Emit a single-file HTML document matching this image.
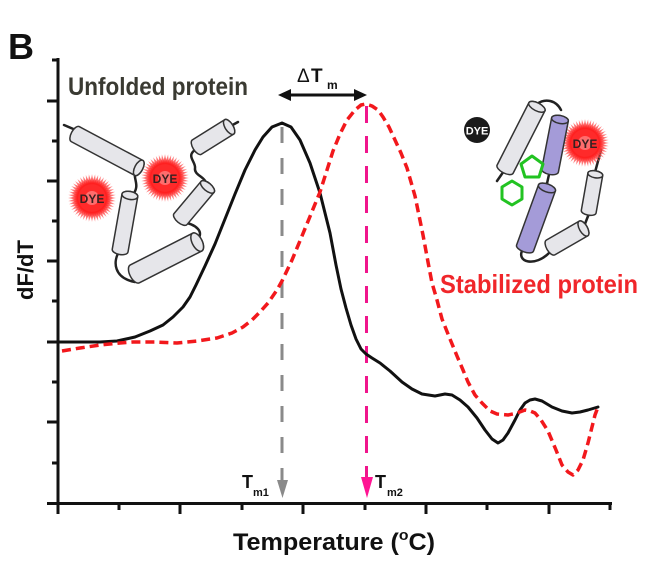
<!DOCTYPE html>
<html><head><meta charset="utf-8"><style>
html,body{margin:0;padding:0;background:#fff;}
svg{display:block;}
text{font-family:"Liberation Sans",Arial,sans-serif;}
</style></head><body>
<svg width="650" height="565" viewBox="0 0 650 565" xmlns="http://www.w3.org/2000/svg">
<defs>
<radialGradient id="burst" cx="0.5" cy="0.5" r="0.5">
<stop offset="0" stop-color="#ffecec"/>
<stop offset="0.3" stop-color="#ff6a6a"/>
<stop offset="0.6" stop-color="#ff1e1e"/>
<stop offset="1" stop-color="#ff7070" stop-opacity="0.6"/>
</radialGradient>
<g id="star">
<polygon points="24,0 14.87,1.96 23.18,6.21 13.86,5.74 20.78,12 11.9,9.13 16.97,16.97 9.13,11.9 12,20.78 5.74,13.86 6.21,23.18 1.96,14.87 0,24 -1.96,14.87 -6.21,23.18 -5.74,13.86 -12,20.78 -9.13,11.9 -16.97,16.97 -11.9,9.13 -20.78,12 -13.86,5.74 -23.18,6.21 -14.87,1.96 -24,0 -14.87,-1.96 -23.18,-6.21 -13.86,-5.74 -20.78,-12 -11.9,-9.13 -16.97,-16.97 -9.13,-11.9 -12,-20.78 -5.74,-13.86 -6.21,-23.18 -1.96,-14.87 0,-24 1.96,-14.87 6.21,-23.18 5.74,-13.86 12,-20.78 9.13,-11.9 16.97,-16.97 11.9,-9.13 20.78,-12 13.86,-5.74 23.18,-6.21 14.87,-1.96" fill="url(#burst)"/>
<polygon transform="rotate(7.5)" points="24,0 14.87,1.96 23.18,6.21 13.86,5.74 20.78,12 11.9,9.13 16.97,16.97 9.13,11.9 12,20.78 5.74,13.86 6.21,23.18 1.96,14.87 0,24 -1.96,14.87 -6.21,23.18 -5.74,13.86 -12,20.78 -9.13,11.9 -16.97,16.97 -11.9,9.13 -20.78,12 -13.86,5.74 -23.18,6.21 -14.87,1.96 -24,0 -14.87,-1.96 -23.18,-6.21 -13.86,-5.74 -20.78,-12 -11.9,-9.13 -16.97,-16.97 -9.13,-11.9 -12,-20.78 -5.74,-13.86 -6.21,-23.18 -1.96,-14.87 0,-24 1.96,-14.87 6.21,-23.18 5.74,-13.86 12,-20.78 9.13,-11.9 16.97,-16.97 11.9,-9.13 20.78,-12 13.86,-5.74 23.18,-6.21 14.87,-1.96" fill="url(#burst)"/>
<circle r="13" fill="#ff2a2a"/>
<circle r="7" fill="#ff8a8a" opacity="0.7"/>
</g>
</defs>

<rect width="650" height="565" fill="#fff"/>

<!-- Panel label -->
<text x="8" y="59" font-size="36" font-weight="bold" fill="#111">B</text>

<!-- Axes -->
<g stroke="#111" stroke-width="3" fill="none">
<line x1="58" y1="58" x2="58" y2="505"/>
<line x1="56.5" y1="503.5" x2="612" y2="503.5"/>
<!-- y ticks major -->
<line x1="47" y1="101" x2="58" y2="101"/>
<line x1="47" y1="181" x2="58" y2="181"/>
<line x1="47" y1="261" x2="58" y2="261"/>
<line x1="47" y1="342" x2="58" y2="342"/>
<line x1="47" y1="422" x2="58" y2="422"/>
<line x1="47" y1="503.5" x2="58" y2="503.5"/>
<!-- y ticks minor -->
<line x1="52" y1="60" x2="58" y2="60"/>
<line x1="52" y1="141" x2="58" y2="141"/>
<line x1="52" y1="221" x2="58" y2="221"/>
<line x1="52" y1="301" x2="58" y2="301"/>
<line x1="52" y1="382" x2="58" y2="382"/>
<line x1="52" y1="463" x2="58" y2="463"/>
<!-- x ticks major -->
<line x1="58" y1="503" x2="58" y2="514"/>
<line x1="180" y1="503" x2="180" y2="514"/>
<line x1="303" y1="503" x2="303" y2="514"/>
<line x1="426" y1="503" x2="426" y2="514"/>
<line x1="549" y1="503" x2="549" y2="514"/>
<!-- x ticks minor -->
<line x1="119" y1="503" x2="119" y2="510"/>
<line x1="242" y1="503" x2="242" y2="510"/>
<line x1="365" y1="503" x2="365" y2="510"/>
<line x1="487" y1="503" x2="487" y2="510"/>
<line x1="610" y1="503" x2="610" y2="510"/>
</g>

<!-- Axis labels -->
<text transform="translate(33,270) rotate(-90)" text-anchor="middle" font-size="22" font-weight="bold" fill="#111">dF/dT</text>
<text x="233" y="550" font-size="24" font-weight="bold" fill="#111" textLength="202" lengthAdjust="spacingAndGlyphs">Temperature (<tspan font-size="15" dy="-10">o</tspan><tspan dy="10">C)</tspan></text>

<!-- Vertical Tm lines -->
<line x1="282" y1="127" x2="282" y2="482" stroke="#8a8a8a" stroke-width="3" stroke-dasharray="16 15"/>
<polygon points="277,480 288,480 282.5,498" fill="#8a8a8a"/>
<line x1="366.5" y1="106" x2="366.5" y2="480" stroke="#f0158c" stroke-width="3" stroke-dasharray="17 13"/>
<polygon points="361,477 373,477 367,498" fill="#ff1493"/>

<!-- Tm labels -->
<text x="242" y="488" font-size="18" font-weight="bold" fill="#111">T</text>
<text x="253" y="496" font-size="11" font-weight="bold" fill="#111">m1</text>
<text x="375" y="488" font-size="18" font-weight="bold" fill="#111">T</text>
<text x="387" y="496" font-size="11" font-weight="bold" fill="#111">m2</text>

<!-- Delta Tm arrow -->
<line x1="288" y1="95" x2="357" y2="95" stroke="#111" stroke-width="3"/>
<polygon points="278,95 291,89 291,101" fill="#111"/>
<polygon points="367,95 354,89 354,101" fill="#111"/>
<text x="297" y="82" font-size="19" fill="#111">Δ</text>
<text x="311" y="82" font-size="19" font-weight="bold" fill="#111">T</text>
<text x="327" y="89" font-size="12" font-weight="bold" fill="#111">m</text>

<!-- Black curve -->
<polyline fill="none" stroke="#111" stroke-width="3" stroke-linejoin="round" stroke-linecap="round" points="58,342 80,342 100,342 117,341 135,337 150,331 163,325 173,317 183,307 190,297 196,285 205,266 215,244 225,219 235,194 245,170 255,150 263,137 272,127 282,123 291,127 300,140 310,163 320,193 330,233 336,265 341,289 346,308 351,325 356,339 361,349 366,354 372,358 380,363 390,371 402,382 412,389 422,394 435,396 445,394 452,395 460,400 468,407 477,418 485,430 492,439 498,443 503,440 508,433 515,420 520,410 525,403 530,400 535,399 542,401 552,407 562,411 572,413 580,412 588,410 598,407"/>

<!-- Red dashed curve -->
<polyline fill="none" stroke="#f2181c" stroke-width="3.5" stroke-dasharray="9 5" stroke-linejoin="round" points="62,351 80,348 100,345 120,343 133,342 155,342 177,343 197,341 217,338 232,333 243,327 252,320 260,312 268,303 277,290 282,281 292,260 302,236 311,214 320,192 327,170 333,151 340,134 347,120 355,110 361,105 366,104 372,106 378,110 383,117 389,127 395,140 401,153 407,168 415,196 423,235 428,262 432,283 437,300 442,319 450,339 457,356 463,370 468,382 475,395 482,403 490,411 497,414 508,415 517,413 525,410 530,411 535,413 541,420 548,431 556,450 562,465 568,472 573,475 578,470 583,460 588,443 592,427 595,415 598,407"/>

<!-- Text labels -->
<text x="68" y="95" font-size="25" font-weight="bold" fill="#3a3a32" textLength="180" lengthAdjust="spacingAndGlyphs">Unfolded protein</text>
<text x="440" y="293" font-size="26" font-weight="bold" fill="#f0262a" textLength="198" lengthAdjust="spacingAndGlyphs">Stabilized protein</text>

<!-- Left cartoon (unfolded) -->
<g stroke="#222" stroke-width="2.5" fill="none" stroke-linecap="round">
<line x1="64" y1="125" x2="78" y2="131"/>
<path d="M136,170 C132,178 140,184 134,193"/>
<path d="M120,250 C112,262 114,278 135,282"/>
<path d="M197,240 C205,232 196,224 182,222"/>
<path d="M195,150 C186,156 196,162 195,168 C194,176 206,176 207,186"/>
<line x1="229" y1="127" x2="238" y2="122"/>
</g>
<g fill="#e6e6ea" stroke="#333" stroke-width="1.5">
<g transform="translate(107,151) rotate(28)">
<path d="M-36,-8.5 L36,-8.5 A4,8.5 0 0 1 36,8.5 L-36,8.5 A4,8.5 0 0 1 -36,-8.5 Z"/><ellipse cx="36" cy="0" rx="4" ry="8.5"/></g>
<g transform="translate(125,223) rotate(100)">
<path d="M-28,-8 L28,-8 A4,8 0 0 1 28,8 L-28,8 A4,8 0 0 1 -28,-8 Z"/><ellipse cx="-28" cy="0" rx="4" ry="8"/></g>
<g transform="translate(166,258) rotate(-27)">
<path d="M-35,-10 L35,-10 A5,10 0 0 1 35,10 L-35,10 A5,10 0 0 1 -35,-10 Z"/><ellipse cx="35" cy="0" rx="5" ry="10"/></g>
<g transform="translate(194,203) rotate(-50)">
<path d="M-21,-8.5 L21,-8.5 A4,8.5 0 0 1 21,8.5 L-21,8.5 A4,8.5 0 0 1 -21,-8.5 Z"/><ellipse cx="21" cy="0" rx="4" ry="8.5"/></g>
<g transform="translate(213,137) rotate(-32)">
<path d="M-19,-8.5 L19,-8.5 A4,8.5 0 0 1 19,8.5 L-19,8.5 A4,8.5 0 0 1 -19,-8.5 Z"/><ellipse cx="19" cy="0" rx="4" ry="8.5"/></g>
</g>
<use href="#star" transform="translate(92,198)"/>
<use href="#star" transform="translate(165,178)"/>
<text x="92" y="203" text-anchor="middle" font-size="12" font-weight="bold" fill="#3a2020">DYE</text>
<text x="165" y="183" text-anchor="middle" font-size="12" font-weight="bold" fill="#3a2020">DYE</text>

<!-- Right cartoon (stabilized) -->
<circle cx="477" cy="130" r="13" fill="#1a1a1a"/>
<text x="477" y="134.5" text-anchor="middle" font-size="11" font-weight="bold" fill="#fff">DYE</text>
<g stroke="#222" stroke-width="2.5" fill="none" stroke-linecap="round">
<line x1="497" y1="181" x2="506" y2="168"/>
<path d="M537,104 C545,98 556,100 561,110"/>
<line x1="550" y1="170" x2="546" y2="188"/>
<path d="M523,249 C515,262 535,268 550,252"/>
<line x1="583" y1="229" x2="590" y2="211"/>
<line x1="594" y1="176" x2="601" y2="150"/>
</g>
<use href="#star" transform="translate(585,143)"/>
<text x="585" y="148" text-anchor="middle" font-size="12" font-weight="bold" fill="#3a2020">DYE</text>
<g stroke="#333" stroke-width="1.5">
<g transform="translate(521,138) rotate(-63)" fill="#e6e6ea">
<path d="M-35,-9 L35,-9 A4,9 0 0 1 35,9 L-35,9 A4,9 0 0 1 -35,-9 Z"/><ellipse cx="35" cy="0" rx="4" ry="9"/></g>
<g transform="translate(555,145) rotate(-79)" fill="#a49bd8">
<path d="M-26,-8.5 L26,-8.5 A4,8.5 0 0 1 26,8.5 L-26,8.5 A4,8.5 0 0 1 -26,-8.5 Z"/><ellipse cx="26" cy="0" rx="4" ry="8.5"/></g>
<g transform="translate(536,218) rotate(-70)" fill="#a49bd8">
<path d="M-32,-9 L32,-9 A4,9 0 0 1 32,9 L-32,9 A4,9 0 0 1 -32,-9 Z"/><ellipse cx="32" cy="0" rx="4" ry="9"/></g>
<g transform="translate(567,238) rotate(-30)" fill="#e6e6ea">
<path d="M-19,-8.5 L19,-8.5 A4,8.5 0 0 1 19,8.5 L-19,8.5 A4,8.5 0 0 1 -19,-8.5 Z"/><ellipse cx="19" cy="0" rx="4" ry="8.5"/></g>
<g transform="translate(592,193) rotate(-80)" fill="#e6e6ea">
<path d="M-19,-7.5 L19,-7.5 A3.5,7.5 0 0 1 19,7.5 L-19,7.5 A3.5,7.5 0 0 1 -19,-7.5 Z"/><ellipse cx="19" cy="0" rx="3.5" ry="7.5"/></g>
</g>
<!-- green ligand -->
<g fill="none" stroke="#22c322" stroke-width="3" stroke-linejoin="round">
<polygon points="532,156 543,164 539,177 525,177 521,164"/>
<polygon points="512,181 522,187 522,199 512,205 502,199 502,187"/>
</g>
</svg>
</body></html>
